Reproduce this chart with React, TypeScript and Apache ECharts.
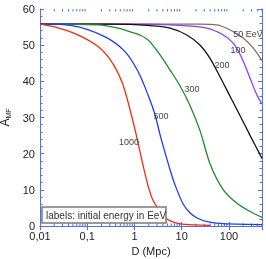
import React, { useEffect, useRef } from "react";
import * as echarts from "echarts";

const D1000 = [0.01, 0.024, 0.065, 0.17, 0.33, 0.54, 0.73, 0.89, 1.08, 1.31, 1.6, 1.94, 2.36, 3.01, 4.04, 5.68, 9.25, 19, 40];
const A1000 = [55.8, 54.8, 52.8, 49.6, 45.4, 39.9, 34.3, 29.9, 25.4, 20.5, 15.5, 11.1, 7.7, 5.2, 2.8, 1.4, 0.6, 0.3, 0.2];
const D500 = [0.01, 0.047, 0.24, 0.63, 1.19, 1.94, 2.73, 3.48, 4.45, 5.68, 7.24, 10.7, 15.1, 21.2, 34.5, 65, 150, 500];
const A500 = [55.8, 55.4, 52.3, 48.2, 42.7, 36.2, 30.7, 25.2, 20.2, 15.5, 11.3, 6.1, 3.6, 2.2, 1.2, 0.7, 0.5, 0.4];
const D300 = [0.01, 0.169, 0.45, 1.01, 1.4, 1.79, 2.14, 3.48, 5.68, 9.25, 15.1, 24.5, 40, 76, 147, 281, 500];
const A300 = [55.8, 55.6, 54.7, 53.3, 52.6, 51.8, 50.9, 47.3, 43.1, 38.7, 33.2, 26.3, 17.1, 10.0, 6.3, 4.0, 2.4];
const D200 = [0.01, 0.3, 2.14, 5.68, 12.8, 24.5, 40, 65, 106, 173, 281, 500];
const A200 = [55.8, 55.8, 55.4, 54.7, 52.8, 50.0, 46.3, 41.2, 35.8, 30.4, 25.0, 18.7];
const D100 = [0.01, 1, 10.9, 34, 76, 124, 188, 281, 390, 500];
const A100 = [55.8, 55.8, 55.4, 54.7, 52.8, 50.5, 46.4, 40.8, 36.2, 33.7];
const D50 = [0.01, 2, 24.5, 55, 106, 203, 330, 500];
const A50 = [55.8, 55.8, 55.8, 55.6, 54.2, 51.9, 49.1, 45.7];

const X_MINOR = [
  0.02, 0.03, 0.04, 0.05, 0.06, 0.07, 0.08, 0.09,
  0.2, 0.3, 0.4, 0.5, 0.6, 0.7, 0.8, 0.9,
  2, 3, 4, 5, 6, 7, 8, 9,
  20, 30, 40, 50, 60, 70, 80, 90,
  200, 300, 400, 500,
];

const AXIS_BLUE = "#4d6ef5";

const zip = (xs: number[], ys: number[]) => xs.map((x, i) => [x, ys[i]]);

const fmtLog = (v: number) => {
  const l = Math.log10(v);
  const e = Math.round(l);
  if (Math.abs(l - e) > 1e-6) return "";
  if (e >= 0) return String(Math.pow(10, e));
  return "0," + "0".repeat(-e - 1) + "1";
};

export default function App() {
  const ref = useRef<HTMLDivElement>(null);
  useEffect(() => {
    if (!ref.current) return;
    const chart = echarts.init(ref.current, undefined, { renderer: "svg" });
    const line = (name: string, data: number[][], color: string) => ({
      name,
      type: "line",
      data,
      symbol: "none",
      smooth: 0.3,
      lineStyle: { color, width: 1.3 },
      z: 3,
    });
    const xCommon = {
      type: "log",
      logBase: 10,
      min: 0.01,
      max: 500,
      axisLine: { show: true, lineStyle: { color: AXIS_BLUE, width: 1 } },
      axisTick: { show: true, inside: true, length: 4, lineStyle: { color: AXIS_BLUE } },
      splitLine: { show: false },
    };
    const yCommon = {
      type: "value",
      min: 0,
      max: 60,
      interval: 10,
      axisLine: { show: true, lineStyle: { color: AXIS_BLUE, width: 1 } },
      axisTick: { show: true, inside: true, length: 4, lineStyle: { color: AXIS_BLUE } },
      minorTick: { show: true, splitNumber: 5, length: 2.5, lineStyle: { color: AXIS_BLUE } },
      splitLine: { show: false },
    };
    chart.setOption({
      animation: false,
      grid: { left: 40, top: 9, right: 4, bottom: 33, containLabel: false, outerBoundsMode: "none" },
      xAxis: [
        {
          ...xCommon,
          position: "bottom",
          name: "D (Mpc)",
          nameLocation: "middle",
          nameGap: 17,
          nameTextStyle: { fontFamily: "Liberation Sans", fontSize: 11, color: "#222" },
          axisLabel: {
            formatter: fmtLog,
            fontFamily: "Liberation Sans",
            fontSize: 11,
            color: "#222",
            margin: 4,
            alignMinLabel: "center",
            alignMaxLabel: "center",
          },
        },
        {
          ...xCommon,
          position: "top",
          axisLabel: { show: false },
        },
      ],
      yAxis: [
        {
          ...yCommon,
          position: "left",
          name: "{a|A}{s|MF}",
          nameLocation: "middle",
          nameGap: 27,
          nameTextStyle: {
            fontFamily: "Liberation Sans",
            color: "#222",
            rich: {
              a: { fontSize: 12, fontFamily: "Liberation Sans", color: "#222" },
              s: { fontSize: 7, fontFamily: "Liberation Sans", color: "#222", padding: [6, 0, 0, 0] },
            },
          },
          axisLabel: { fontFamily: "Liberation Sans", fontSize: 11, color: "#222", margin: 5 },
        },
        {
          ...yCommon,
          position: "right",
          axisLabel: { show: false },
        },
      ],
      series: [
        {
          type: "custom",
          silent: true,
          clip: false,
          data: X_MINOR.map((v) => [v, 0]),
          encode: { x: 0, y: 1 },
          renderItem: (params: any, api: any) => {
            const v = api.value(0);
            const pb = api.coord([v, 0]);
            const pt = api.coord([v, 60]);
            const st = { stroke: AXIS_BLUE, lineWidth: 1 };
            return {
              type: "group",
              children: [
                { type: "line", shape: { x1: pb[0], y1: pb[1], x2: pb[0], y2: pb[1] - 2.5 }, style: st },
                { type: "line", shape: { x1: pt[0], y1: pt[1], x2: pt[0], y2: pt[1] + 2.5 }, style: st },
              ],
            };
          },
          z: 2,
        },
        line("50", zip(D50, A50), "#8b6c5c"),
        line("100", zip(D100, A100), "#8a3ff0"),
        line("200", zip(D200, A200), "#111111"),
        line("300", zip(D300, A300), "#1f8a2a"),
        line("500", zip(D500, A500), "#1c3cf5"),
        line("1000", zip(D1000, A1000), "#f22a10"),
      ],
      graphic: [
        {
          type: "rect",
          shape: { x: 42, y: 207, width: 124, height: 16 },
          style: { fill: "#fff", stroke: "#7a7a7a", lineWidth: 1.5 },
          z: 10,
        },
        {
          type: "text",
          x: 46,
          y: 215,
          style: {
            text: "labels: initial energy in EeV",
            fontFamily: "Liberation Sans",
            fontSize: 10,
            fill: "#333",
            verticalAlign: "middle",
          },
          z: 11,
        },
        ...[
          { t: "50 EeV", x: 248, y: 34 },
          { t: "100", x: 238, y: 50 },
          { t: "200", x: 222, y: 65 },
          { t: "300", x: 192, y: 89 },
          { t: "500", x: 161, y: 116 },
          { t: "1000", x: 129, y: 142 },
        ].map((l) => ({
          type: "text",
          x: l.x,
          y: l.y,
          style: {
            text: l.t,
            fontFamily: "Liberation Sans",
            fontSize: 9,
            fill: "#444",
            align: "center",
            verticalAlign: "middle",
          },
          z: 12,
        })),
      ],
    });
    return () => chart.dispose();
  }, []);
  return <div ref={ref} style={{ position: "fixed", left: 0, top: 0, width: 266, height: 259 }} />;
}
